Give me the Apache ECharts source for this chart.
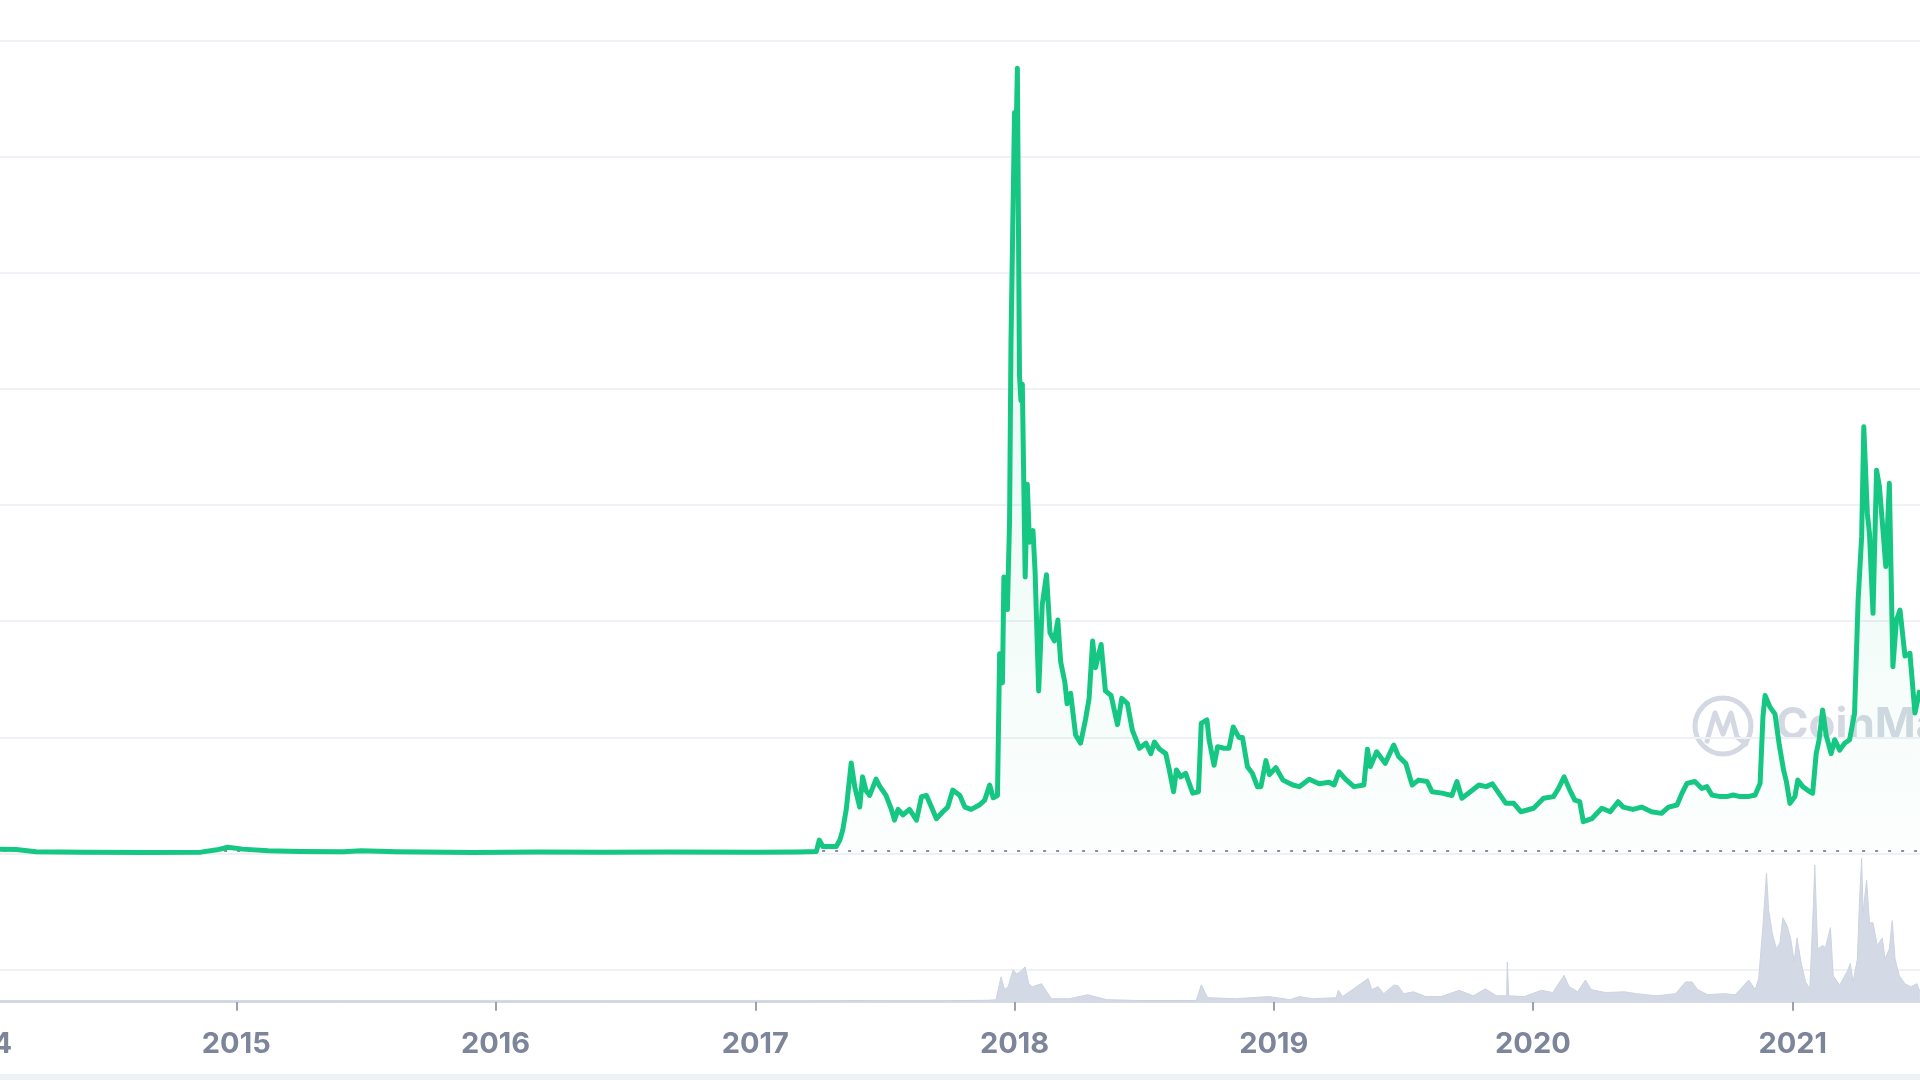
<!DOCTYPE html>
<html>
<head>
<meta charset="utf-8">
<script src="https://cdn.jsdelivr.net/npm/echarts@6/dist/echarts.min.js"></script>
<style>
  html, body { margin: 0; padding: 0; background: #fff; }
  #chart { width: 1920px; height: 1080px; }
</style>
</head>
<body>
<div id="chart"></div>
<script>
// XRP price (USD) + volume (USD bn)

const PRICE_DATES = [
  "2014-02-01","2014-02-25","2014-03-25","2014-06-01","2014-09-01","2014-11-12","2014-12-05","2014-12-20",
  "2015-01-10","2015-02-15","2015-04-01","2015-06-01","2015-06-26","2015-08-15","2015-12-01",
  "2016-03-01","2016-06-01","2016-09-01","2017-01-01","2017-03-01","2017-03-28","2017-04-01","2017-04-06",
  "2017-04-25","2017-04-30","2017-05-04","2017-05-09","2017-05-16","2017-05-21","2017-05-28","2017-06-01",
  "2017-06-06","2017-06-11","2017-06-20","2017-06-25","2017-07-04","2017-07-11","2017-07-16","2017-07-21",
  "2017-07-28","2017-08-06","2017-08-16","2017-08-23","2017-08-30","2017-09-06","2017-09-13","2017-09-22",
  "2017-09-29","2017-10-06","2017-10-16","2017-10-23","2017-11-01","2017-11-13","2017-11-20","2017-11-27",
  "2017-12-02","2017-12-08","2017-12-11","2017-12-15","2017-12-17","2017-12-22","2017-12-25","2017-12-27",
  "2018-01-01","2018-01-03","2018-01-05","2018-01-08","2018-01-10","2018-01-12","2018-01-16","2018-01-19",
  "2018-01-22","2018-01-27","2018-01-30","2018-02-04","2018-02-09","2018-02-15","2018-02-20","2018-02-26",
  "2018-03-03","2018-03-07","2018-03-13","2018-03-16","2018-03-21","2018-03-28","2018-04-04","2018-04-11",
  "2018-04-16","2018-04-21","2018-04-25","2018-05-03","2018-05-09","2018-05-17","2018-05-26","2018-06-01",
  "2018-06-09","2018-06-16","2018-06-26","2018-07-05","2018-07-12","2018-07-17","2018-07-24","2018-08-02",
  "2018-08-07","2018-08-13","2018-08-17","2018-08-23","2018-08-30","2018-09-09","2018-09-17","2018-09-21",
  "2018-09-29","2018-10-02","2018-10-09","2018-10-14","2018-10-23","2018-10-30","2018-11-05","2018-11-13",
  "2018-11-18","2018-11-25","2018-12-02","2018-12-09","2018-12-14","2018-12-21","2018-12-26","2019-01-04",
  "2019-01-14","2019-01-28","2019-02-06","2019-02-20","2019-03-06","2019-03-20","2019-03-27","2019-04-03",
  "2019-04-12","2019-04-24","2019-05-08","2019-05-13","2019-05-17","2019-05-26","2019-06-07","2019-06-19",
  "2019-06-26","2019-07-06","2019-07-15","2019-07-24","2019-08-05","2019-08-12","2019-08-26","2019-09-09",
  "2019-09-16","2019-09-23","2019-10-05","2019-10-17","2019-10-27","2019-11-05","2019-11-14","2019-11-24",
  "2019-12-05","2019-12-15","2020-01-02","2020-01-16","2020-01-30","2020-02-06","2020-02-14","2020-02-22",
  "2020-02-29","2020-03-07","2020-03-12","2020-03-24","2020-04-07","2020-04-19","2020-04-30","2020-05-07",
  "2020-05-21","2020-06-02","2020-06-16","2020-06-30","2020-07-10","2020-07-22","2020-07-29","2020-08-05",
  "2020-08-16","2020-08-26","2020-09-02","2020-09-09","2020-09-21","2020-09-30","2020-10-09","2020-10-19",
  "2020-10-30","2020-11-09","2020-11-16","2020-11-20","2020-11-23","2020-11-30","2020-12-07","2020-12-13",
  "2020-12-19","2020-12-23","2020-12-28","2021-01-04","2021-01-08","2021-01-15","2021-01-25","2021-01-29",
  "2021-02-03","2021-02-07","2021-02-12","2021-02-17","2021-02-24","2021-03-01","2021-03-08","2021-03-15",
  "2021-03-22","2021-03-29","2021-04-03","2021-04-08","2021-04-11","2021-04-16","2021-04-19","2021-04-24",
  "2021-04-29","2021-05-03","2021-05-08","2021-05-12","2021-05-17","2021-05-22","2021-05-27","2021-06-01",
  "2021-06-08","2021-06-15","2021-06-22","2021-06-29"
];
const PRICE_USD = [
  0.019,0.017,0.008,0.006,0.005,0.006,0.016,0.027,
  0.019,0.012,0.009,0.008,0.012,0.008,0.005,
  0.007,0.006,0.007,0.006,0.007,0.009,0.058,0.030,
  0.030,0.058,0.100,0.190,0.390,0.287,0.200,0.330,
  0.270,0.250,0.320,0.290,0.250,0.195,0.144,0.190,
  0.166,0.190,0.144,0.245,0.250,0.200,0.150,0.180,
  0.200,0.273,0.250,0.200,0.190,0.210,0.230,0.295,
  0.240,0.250,0.860,0.735,1.190,1.050,1.430,2.200,
  3.190,3.060,3.380,2.060,1.950,2.020,1.190,1.590,
  1.340,1.390,1.210,0.700,1.070,1.200,0.950,0.915,
  1.005,0.825,0.735,0.645,0.690,0.510,0.475,0.577,
  0.668,0.915,0.800,0.900,0.700,0.680,0.555,0.668,
  0.645,0.530,0.453,0.475,0.430,0.480,0.450,0.430,
  0.360,0.266,0.360,0.330,0.345,0.260,0.266,0.560,
  0.575,0.490,0.380,0.460,0.453,0.453,0.545,0.500,
  0.500,0.374,0.345,0.288,0.288,0.400,0.340,0.370,
  0.316,0.295,0.288,0.320,0.300,0.307,0.295,0.352,
  0.320,0.288,0.295,0.449,0.374,0.438,0.388,0.467,
  0.417,0.388,0.295,0.316,0.310,0.266,0.260,0.250,
  0.310,0.238,0.266,0.295,0.288,0.300,0.260,0.216,
  0.216,0.180,0.195,0.238,0.245,0.280,0.330,0.273,
  0.230,0.223,0.137,0.150,0.195,0.180,0.223,0.200,
  0.190,0.200,0.180,0.173,0.200,0.209,0.260,0.302,
  0.310,0.280,0.288,0.252,0.245,0.245,0.252,0.245,
  0.245,0.252,0.302,0.589,0.680,0.630,0.600,0.467,
  0.360,0.310,0.216,0.245,0.316,0.288,0.266,0.260,
  0.431,0.489,0.618,0.510,0.430,0.490,0.445,0.475,
  0.490,0.604,1.090,1.364,1.837,1.465,1.378,1.034,
  1.650,1.580,1.393,1.235,1.594,0.804,1.005,1.048,
  0.850,0.862,0.605,0.704
];

const VOL_DATES = [
  "2014-02-01","2015-06-01","2016-06-01","2017-03-01","2017-05-15","2017-09-01","2017-11-25","2017-12-06",
  "2017-12-13","2017-12-18","2017-12-23","2017-12-30","2018-01-04","2018-01-09","2018-01-16","2018-01-21",
  "2018-01-26","2018-02-08","2018-02-22","2018-03-19","2018-04-14","2018-05-11","2018-07-01","2018-09-14",
  "2018-09-21","2018-09-30","2018-11-08","2018-12-25","2019-01-24","2019-02-06","2019-02-25","2019-03-30",
  "2019-04-02","2019-04-08","2019-05-14","2019-05-19","2019-05-28","2019-06-05","2019-06-19","2019-06-25",
  "2019-07-03","2019-07-17","2019-08-03","2019-08-25","2019-09-19","2019-10-09","2019-10-26","2019-11-11",
  "2019-11-25","2019-11-26","2019-11-28","2019-12-20","2020-01-13","2020-01-29","2020-02-14","2020-02-21",
  "2020-03-04","2020-03-15","2020-03-23","2020-04-12","2020-05-09","2020-05-26","2020-06-23","2020-07-20",
  "2020-08-03","2020-08-12","2020-08-20","2020-09-03","2020-09-25","2020-10-12","2020-10-31","2020-11-09",
  "2020-11-14","2020-11-20","2020-11-25","2020-11-28","2020-12-03","2020-12-09","2020-12-14","2020-12-18",
  "2020-12-24","2020-12-29","2021-01-03","2021-01-07","2021-01-13","2021-01-19","2021-01-25","2021-01-30",
  "2021-02-01","2021-02-05","2021-02-12","2021-02-16","2021-02-23","2021-02-27","2021-03-08","2021-03-19",
  "2021-03-23","2021-03-27","2021-04-02","2021-04-05","2021-04-08","2021-04-10","2021-04-15","2021-04-19",
  "2021-04-24","2021-04-30","2021-05-07","2021-05-11","2021-05-17","2021-05-21","2021-05-25","2021-05-31",
  "2021-06-08","2021-06-16","2021-06-25","2021-06-29"
];
const VOL_BN = [
  0.05,0.05,0.05,0.05,0.3,0.2,0.4,0.55,
  6.8,3.3,4.1,8.7,7.6,8.2,9.5,4.9,
  4.1,4.9,0.8,0.8,1.9,0.55,0.3,0.3,
  4.6,1.1,0.8,1.4,0.55,1.4,0.8,1.1,
  3.1,1.4,6.3,3.3,4.1,2.2,4.5,4.4,
  2.2,2.7,1.4,1.4,3.1,1.6,3.5,1.6,
  1.6,10.8,1.6,1.4,3.1,2.5,7.2,4.1,
  2.7,5.9,3.3,2.5,2.7,2.2,1.6,2.2,
  5.4,5.4,3.3,1.9,2.2,1.9,5.9,3.3,
  6.3,20.7,35.1,25.1,18.8,14.4,16.1,22.9,
  20.7,17.2,10.9,17.4,10.4,5.4,3.5,26.2,
  37.3,14.4,15.3,14.7,20.2,7.1,4.5,8.4,
  10.4,5.4,11.7,27.8,39.1,24.3,33.2,21.5,
  21.5,15.3,17.4,11.7,14.4,22.1,11.7,7.1,
  4.9,4.1,4.9,2.7
];

const OPEN_PRICE = 0.005;            // dotted reference line
const X_MIN = "2014-01-01";
const X_MAX = "2021-07-01";
const PRICE_TICKS = { min: -0.5, max: 3.5, step: 0.5 };
const VOL_MAX = 40;

const GREEN = "#16c784";
const MUTED = "#7d859a";
const YEAR = 365 * 24 * 3600 * 1000;

const chart = echarts.init(document.getElementById("chart"), null, { renderer: "canvas" });

const priceData = PRICE_DATES.map((d, i) => [d, PRICE_USD[i]]);
const volData   = VOL_DATES.map((d, i) => [d, VOL_BN[i]]);

const gridL = -22.9, gridR = -1.3;

chart.setOption({
  backgroundColor: "#ffffff",
  animation: false,
  grid: [
    { left: gridL, right: gridR, top: 40.4, bottom: 110.3, outerBoundsMode: "none", containLabel: false },
    { left: gridL, right: gridR, top: 855, bottom: 78.3, outerBoundsMode: "none", containLabel: false },
  ],
  xAxis: [
    { type: "time", gridIndex: 0, min: X_MIN, max: X_MAX, show: false },
    {
      type: "time", gridIndex: 1, min: X_MIN, max: X_MAX,
      splitNumber: 8, minInterval: YEAR, maxInterval: YEAR + 86400000,
      axisLine: { lineStyle: { color: "#d6dbe4", width: 3 } },
      axisTick: { show: true, length: 9, lineStyle: { color: "#9aa1b2", width: 2 } },
      axisLabel: {
        formatter: "{yyyy}", color: MUTED, fontSize: 29, fontWeight: 700,
        fontFamily: "Inter", margin: 28, showMinLabel: true, hideOverlap: false,
      },
      splitLine: { show: false },
    },
  ],
  yAxis: [
    {
      type: "value", gridIndex: 0,
      min: PRICE_TICKS.min, max: PRICE_TICKS.max, interval: PRICE_TICKS.step,
      axisLabel: { show: false }, axisLine: { show: false }, axisTick: { show: false },
      splitLine: { lineStyle: { color: "#eef1f5", width: 2 } },
    },
    { type: "value", gridIndex: 1, min: 0, max: VOL_MAX, show: false, splitLine: { show: false } },
  ],
  graphic: [
    { type: "rect", z: 0, shape: { x: 0, y: 1074, width: 1920, height: 6 }, style: { fill: "#eff2f5" } },
    // CoinMarketCap watermark
    { type: "circle", z: 0, shape: { cx: 1723, cy: 726, r: 28 }, style: { fill: null, stroke: "#d4d8e2", lineWidth: 5 } },
    {
      type: "polyline", z: 0,
      shape: { points: [[1707, 741], [1715, 713], [1723, 734], [1731, 713], [1737, 737], [1746, 744]] },
      style: { stroke: "#d4d8e2", lineWidth: 5, fill: null, lineJoin: "round", lineCap: "round" },
    },
    {
      type: "text", z: 0, x: 1776, y: 726,
      style: { text: "CoinMarketCap", fontSize: 44, fontWeight: 700, fontFamily: "Inter",
               fill: "#d4d8e2", verticalAlign: "middle" },
    },
  ],
  series: [
    {
      name: "Volume", type: "line", xAxisIndex: 1, yAxisIndex: 1,
      data: volData, symbol: "none", z: 2,
      lineStyle: { color: "#cdd3e0", width: 1 },
      areaStyle: { color: "#d3d9e5", opacity: 1 },
    },
    {
      name: "Price", type: "line", xAxisIndex: 0, yAxisIndex: 0,
      data: priceData, symbol: "none", z: 3,
      lineStyle: { color: GREEN, width: 5, join: "round" },
      areaStyle: {
        origin: 0,
        color: new echarts.graphic.LinearGradient(0, 40, 0, 853, [
          { offset: 0, color: "rgba(22,199,132,0.20)" },
          { offset: 1, color: "rgba(22,199,132,0.02)" },
        ], true),
      },
      markLine: {
        silent: true, z: 1, symbol: ["none", "none"], label: { show: false },
        lineStyle: { color: "#8a909d", width: 2, type: [3, 10] },
        data: [{ yAxis: OPEN_PRICE }],
      },
    },
  ],
});
</script>
</body>
</html>
